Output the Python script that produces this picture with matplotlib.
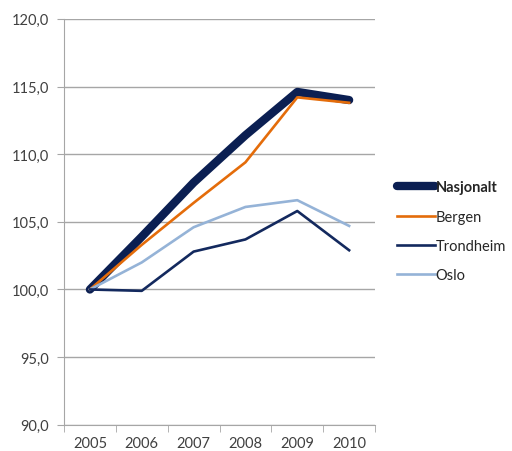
import matplotlib.pyplot as plt
from matplotlib.ticker import FixedLocator, FuncFormatter

plt.rcParams['font.family'] = ['Lato', 'DejaVu Sans']

aar = ['2005', '2006', '2007', '2008', '2009', '2010']
nasjonalt = [100.0, 103.9, 107.9, 111.4, 114.6, 114.0]
bergen = [100.0, 103.3, 106.4, 109.4, 114.2, 113.8]
trondheim = [100.0, 99.9, 102.8, 103.7, 105.8, 102.9]
oslo = [100.0, 102.0, 104.6, 106.1, 106.6, 104.7]

fig = plt.figure(figsize=(5.12, 4.52), dpi=100)
ax = fig.add_axes([0.125, 0.058, 0.6075, 0.898])

x = range(len(aar))
ax.plot(x, nasjonalt, color='#0B1F52', lw=6, solid_capstyle='round', label='Nasjonalt', zorder=3)
ax.plot(x, bergen, color='#E46C0A', lw=1.9, label='Bergen', zorder=4)
ax.plot(x, trondheim, color='#13295E', lw=1.9, label='Trondheim', zorder=5)
ax.plot(x, oslo, color='#95B3D7', lw=1.9, label='Oslo', zorder=4)

ax.set_xlim(-0.5, 5.5)
ax.set_ylim(90, 120)
ax.set_xticks(list(x))
ax.set_xticklabels(aar)
ax.xaxis.set_minor_locator(FixedLocator([i - 0.5 for i in range(7)]))
ax.tick_params(axis='x', which='major', length=0, pad=8, labelsize=10.5, colors='#404040')
ax.tick_params(axis='x', which='minor', length=5, color='#A6A6A6')
ax.set_yticks(range(90, 121, 5))
ax.yaxis.set_major_formatter(FuncFormatter(lambda v, p: f'{v:.1f}'.replace('.', ',')))
ax.tick_params(axis='y', length=5, color='#A6A6A6', labelsize=10.5, labelcolor='#404040', pad=6)
ax.grid(axis='y', color='#A6A6A6', lw=1)
ax.set_axisbelow(True)
for s in ['top', 'right']:
    ax.spines[s].set_visible(False)
for s in ['left', 'bottom']:
    ax.spines[s].set_color('#A6A6A6')

leg = fig.legend(loc='center left', bbox_to_anchor=(0.775, 0.486), frameon=False,
                 borderaxespad=0, borderpad=0,
                 handlelength=2.6, handletextpad=0.05, labelspacing=1.05, fontsize=10.5)
for t in leg.get_texts():
    t.set_color('#262626')
leg.get_texts()[0].set_fontweight('bold')

fig.savefig('out.png', dpi=100)
